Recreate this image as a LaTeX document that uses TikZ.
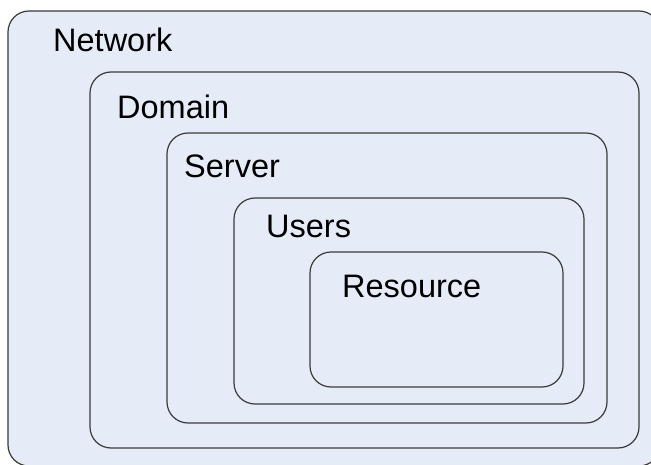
\documentclass[tikz,border=0pt]{standalone}
\usepackage{fontspec}
\setmainfont{Liberation Sans}
\definecolor{boxfill}{HTML}{E6ECF7}
\definecolor{boxline}{HTML}{3A3A3A}
\begin{document}
\begin{tikzpicture}[x=1pt,y=1pt,
  level/.style={draw=boxline, line width=1.2pt, fill=boxfill, rounded corners=21pt},
  caption/.style={anchor=base west, inner sep=0pt, font=\fontsize{32.5}{39}\selectfont}]
\useasboundingbox (0,0) rectangle (651,464);
\fill[white] (0,0) rectangle (651,464);
\clip (0,0) rectangle (651,464);
% nested containers, outermost first
\draw[level] (8,-2) rectangle (660,453);
\draw[level] (90,16) rectangle (639,392);
\draw[level] (167,41) rectangle (607,331);
\draw[level] (234,60) rectangle (584,266);
\draw[level] (310,77) rectangle (563,212);
% labels
\node[caption] (network)  at (53,412) {Network};
\node[caption] (domain)   at (117,345) {Domain};
\node[caption] (server)   at (184,286) {Server};
\node[caption] (users)    at (266,226) {Users};
\node[caption] (resource) at (342,166) {Resource};
\end{tikzpicture}
\end{document}
